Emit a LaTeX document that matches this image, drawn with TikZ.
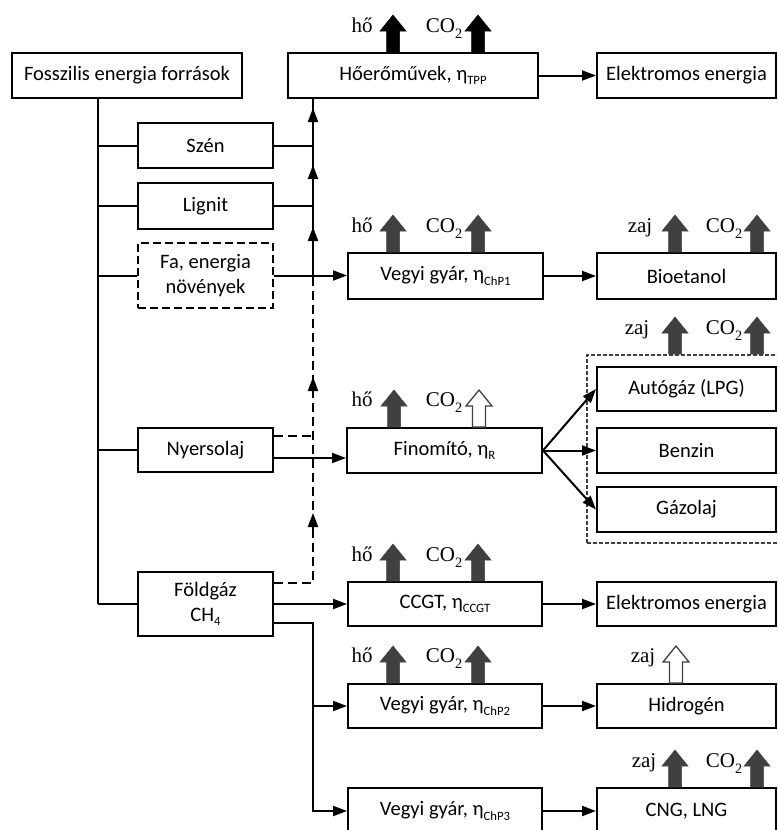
\documentclass[tikz,border=0pt]{standalone}
\usepackage{fontspec}
\setmainfont{Carlito}
\newfontfamily\seriffont{Liberation Serif}
\usetikzlibrary{arrows.meta}
\definecolor{dark}{HTML}{404040}
\newcommand\lowsub[1]{\raisebox{-0.22em}{\scalebox{0.62}{#1}}}
\newcommand\sersub[1]{\raisebox{-0.3em}{\scalebox{0.68}{#1}}}
\begin{document}
\begin{tikzpicture}[x=1pt,y=-1pt,
 box/.style={draw, line width=2pt, inner sep=0pt, align=center, font=\fontsize{20.5}{25}\selectfont},
 rbox/.style={box, minimum width=179},
 dbox/.style={box, dash pattern=on 8pt off 4pt},
 contbox/.style={draw=dark, line width=1.3pt, dash pattern=on 4pt off 2pt, inner sep=0pt},
 conn/.style={line width=2pt},
 arr/.style={conn, -{Triangle[length=14pt,width=10pt]}},
 dsh/.style={conn, dash pattern=on 9pt off 5pt},
 lbl/.style={font=\seriffont\fontsize{21}{21}\selectfont, anchor=base, inner sep=0pt},
 blockarrow/.pic={\path[pic actions] (-6.5,0) -- (-6.5,-21) -- (-13,-21) -- (0,-37) -- (13,-21) -- (6.5,-21) -- (6.5,0) -- cycle;},
 solidup/.style={fill=dark, draw=dark, line width=0.5pt},
 blackup/.style={fill=black, draw=black, line width=0.5pt},
 hollowup/.style={fill=white, draw=dark, line width=1.3pt},
]
\useasboundingbox (0,0) rectangle (777,830);
\clip (0,0) rectangle (777,830);

% boxes
\node[box, minimum width=230, minimum height=45] (foss) at (127,75.5) {Fosszilis energia források};
\node[box, minimum width=250, minimum height=45] (tpp) at (413,75.5) {Hőerőművek, η\lowsub{TPP}};
\node[rbox, minimum height=45] (el1) at (686.5,75.5) {Elektromos energia};
\node[box, minimum width=135, minimum height=45] (szen) at (205.5,145.5) {Szén};
\node[box, minimum width=135, minimum height=46] (lig) at (205.5,206) {Lignit};
\node[dbox, minimum width=135, minimum height=65] (fa) at (205.5,275.5) {Fa, energia\\növények};
\node[box, minimum width=135, minimum height=44] (nyers) at (205.5,450) {Nyersolaj};
\node[box, minimum width=135, minimum height=64] (fold) at (205.5,604) {Földgáz\\CH\lowsub{4}};
\node[box, minimum width=195, minimum height=46] (chp1) at (445.5,276) {Vegyi gyár, η\lowsub{ChP1}};
\node[rbox, minimum height=46] (bio) at (686.5,276) {Bioetanol};
\node[contbox, minimum width=195, minimum height=188] (cont) at (684.5,449) {};
\node[box, minimum width=195, minimum height=45] (fin) at (444.5,450.5) {Finomító, η\lowsub{R}};
\node[rbox, minimum height=44] (auto) at (686.5,389) {Autógáz (LPG)};
\node[rbox, minimum height=45] (benz) at (686.5,450.5) {Benzin};
\node[rbox, minimum height=45] (gazo) at (686.5,509.5) {Gázolaj};
\node[box, minimum width=194, minimum height=44] (ccgt) at (445,604) {CCGT, η\lowsub{CCGT}};
\node[rbox, minimum height=44] (el2) at (686.5,604) {Elektromos energia};
\node[box, minimum width=194, minimum height=44] (chp2) at (445,706) {Vegyi gyár, η\lowsub{ChP2}};
\node[rbox, minimum height=44] (hidr) at (686.5,706) {Hidrogén};
\node[box, minimum width=194, minimum height=46] (chp3) at (445,811) {Vegyi gyár, η\lowsub{ChP3}};
\node[rbox, minimum height=46] (cng) at (686.5,811) {CNG, LNG};

% connectors
\coordinate (tx) at (98,0);
\coordinate (vx) at (313,0);
\coordinate (vmid) at (313,283);
\draw[conn] (foss.south -| tx) -- (tx |- fold.west);
\foreach \n in {szen,lig,fa,nyers,fold} \draw[conn] (tx |- \n.west) -- (\n.west);
\draw[conn] (szen.east) -- (szen.east -| vx);
\draw[conn] (lig.east) -- (lig.east -| vx);
\draw[conn] (vmid) -- (tpp.south -| vx);
\coordinate (h1a) at (313,125); \coordinate (h1b) at (313,108);
\coordinate (h2a) at (313,182); \coordinate (h2b) at (313,165);
\coordinate (h3a) at (313,244); \coordinate (h3b) at (313,227);
\coordinate (h4a) at (313,394); \coordinate (h4b) at (313,377);
\coordinate (h5a) at (313,530); \coordinate (h5b) at (313,513);
\draw[arr] (h1a) -- (h1b);
\draw[arr] (h2a) -- (h2b);
\draw[arr] (h3a) -- (h3b);
\draw[arr] (fa.east) -- (fa.east -| chp1.west);
\draw[dsh] ([yshift=21pt]fold.east) -| (vmid);
\draw[dsh] ([yshift=14pt]nyers.east) -- ([yshift=14pt]nyers.east -| vx);
\draw[arr] (h4a) -- (h4b);
\draw[arr] (h5a) -- (h5b);
\draw[arr] ([yshift=-8pt]nyers.east) -- ([yshift=-8pt]nyers.east -| fin.west);
\draw[arr] (fold.east) -- (fold.east -| ccgt.west);
\draw[arr] ([yshift=-19pt]fold.east) -| (vx |- chp3.west) -- (chp3.west);
\draw[arr] (vx |- chp2.west) -- (chp2.west);
\draw[arr] (tpp.east) -- (el1.west);
\draw[arr] (chp1.east) -- (bio.west);
\draw[arr] (fin.east) -- (auto.west);
\draw[arr] (fin.east) -- (benz.west);
\draw[arr] (fin.east) -- (gazo.west);
\draw[arr] (ccgt.east) -- (el2.west);
\draw[arr] (chp2.east) -- (hidr.west);
\draw[arr] (chp3.east) -- (cng.west);

% emission arrows
\path (393,52) pic[blackup]{blockarrow} (478,52) pic[blackup]{blockarrow};
\path (393,252) pic[solidup]{blockarrow} (478,252) pic[solidup]{blockarrow};
\path (675,252) pic[solidup]{blockarrow} (757,252) pic[solidup]{blockarrow};
\path (675,354) pic[solidup]{blockarrow} (757,354) pic[solidup]{blockarrow};
\path (394,427) pic[solidup]{blockarrow} (479,427) pic[hollowup]{blockarrow};
\path (393,581) pic[solidup]{blockarrow} (478,581) pic[solidup]{blockarrow};
\path (393,683) pic[solidup]{blockarrow} (478,683) pic[solidup]{blockarrow};
\path (676,683) pic[hollowup]{blockarrow};
\path (675,787) pic[solidup]{blockarrow} (757,787) pic[solidup]{blockarrow};

% labels
\node[lbl] (l1) at (362,32) {hő};
\node[lbl] (l2) at (444,32) {CO\sersub{2}};
\node[lbl] (l3) at (362,232) {hő};
\node[lbl] (l4) at (444,232) {CO\sersub{2}};
\node[lbl] (l5) at (640,232) {zaj};
\node[lbl] (l6) at (724,232) {CO\sersub{2}};
\node[lbl] (l7) at (637,334) {zaj};
\node[lbl] (l8) at (724,334) {CO\sersub{2}};
\node[lbl] (l9) at (362,406) {hő};
\node[lbl] (l10) at (444,406) {CO\sersub{2}};
\node[lbl] (l11) at (362,561) {hő};
\node[lbl] (l12) at (444,561) {CO\sersub{2}};
\node[lbl] (l13) at (362,662) {hő};
\node[lbl] (l14) at (444,662) {CO\sersub{2}};
\node[lbl] (l15) at (643,662) {zaj};
\node[lbl] (l16) at (644,767) {zaj};
\node[lbl] (l17) at (724,767) {CO\sersub{2}};
\end{tikzpicture}
\end{document}
